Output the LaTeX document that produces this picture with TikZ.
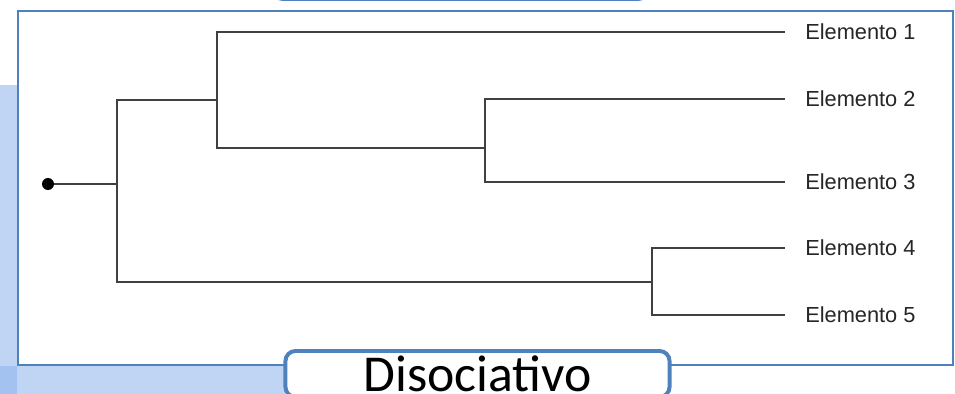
\documentclass[tikz,border=0pt]{standalone}
\usepackage{fontspec}
\newfontfamily\leaffont{Liberation Sans}
\newfontfamily\titlefont{Carlito}
\definecolor{slideblue}{RGB}{79,129,189}
\definecolor{texblue}{RGB}{140,178,235}
\begin{document}
\begin{tikzpicture}[
        x=0.025cm, y=-0.025cm,
        root/.style={circle, fill=black, inner sep=0pt, minimum size=0.3cm},
        leaf/.style={anchor=west, inner xsep=0.5cm, inner ysep=0pt, text=black!85, font=\leaffont\fontsize{15.5}{16}\selectfont},
        branch/.style={draw=black!75, line width=1.2pt},
        frame/.style={draw=slideblue, line width=1.4pt},
        titlebox/.style={draw=slideblue, line width=2.8pt, fill=white, rounded corners=0.25cm, minimum width=9.6cm, minimum height=1.15cm, anchor=north, font=\titlefont\fontsize{36.8}{40}\selectfont}
    ]
    \clip (0,0) rectangle (955,394);
    
    % Slide background
    \fill[texblue, opacity=0.55] (0,85) rectangle (17,394);
    \fill[texblue, opacity=0.55] (0,366) rectangle (285,394);
    \draw[titlebox] (273,-40) rectangle (648,-1);
    
    % Frame of the figure
    \draw[frame, fill=white] (18,11) rectangle (953,365);
    
    % Root
    \node[root] (root) at (48,184) {};
    
    % Splits
    \coordinate (k0) at (117,184);
    \coordinate (k1) at (217,100);
    \coordinate (k2) at (485,148);
    \coordinate (k3) at (652,282);
    
    % Leaves
    \node[leaf] (e1) at (785,32) {Elemento 1};
    \node[leaf] (e2) at (785,99) {Elemento 2};
    \node[leaf] (e3) at (785,182) {Elemento 3};
    \node[leaf] (e4) at (785,248) {Elemento 4};
    \node[leaf] (e5) at (785,315) {Elemento 5};
    
    % Branches
    \draw[branch] (root) -- (k0);
    \draw[branch] (k0) |- (k1);
    \draw[branch] (k0) |- (k3);
    \draw[branch] (k1) |- (e1);
    \draw[branch] (k1) |- (k2);
    \draw[branch] (k2) |- (e2);
    \draw[branch] (k2) |- (e3);
    \draw[branch] (k3) |- (e4);
    \draw[branch] (k3) |- (e5);
    
    % Title
    \node[titlebox] (title) at (477.5,349) {Disociativo};
    
\end{tikzpicture}
\end{document}
